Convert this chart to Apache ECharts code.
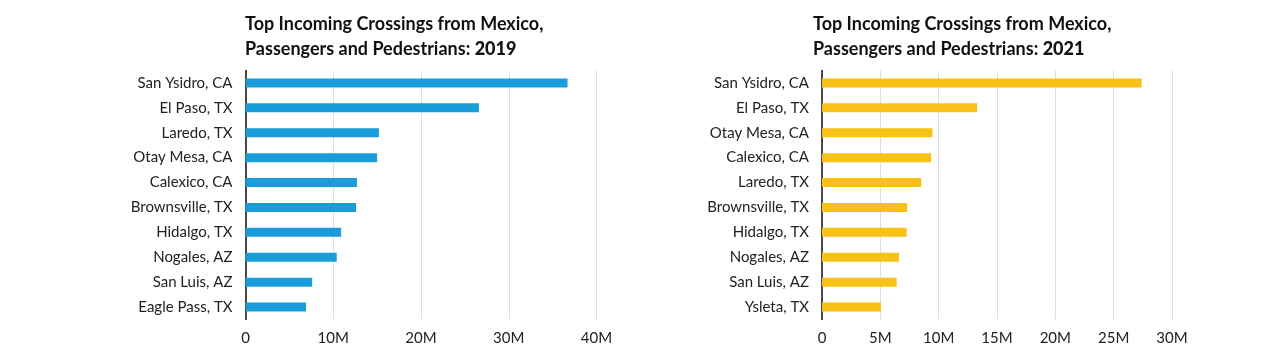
<!DOCTYPE html>
<html>
<head>
<meta charset="utf-8">
<script src="https://cdn.jsdelivr.net/npm/echarts@6/dist/echarts.min.js"></script>
<style>
html,body{margin:0;padding:0;background:#fff;}
#chart{width:1280px;height:358px;}
</style>
</head>
<body>
<div id="chart"></div>
<script>
var categories2019 = ['San Ysidro, CA','El Paso, TX','Laredo, TX','Otay Mesa, CA','Calexico, CA','Brownsville, TX','Hidalgo, TX','Nogales, AZ','San Luis, AZ','Eagle Pass, TX'];
var values2019 = [36.7, 26.6, 15.2, 15.0, 12.7, 12.6, 10.9, 10.4, 7.6, 6.9];
var categories2021 = ['San Ysidro, CA','El Paso, TX','Otay Mesa, CA','Calexico, CA','Laredo, TX','Brownsville, TX','Hidalgo, TX','Nogales, AZ','San Luis, AZ','Ysleta, TX'];
var values2021 = [27.4, 13.3, 9.47, 9.35, 8.5, 7.3, 7.25, 6.6, 6.4, 5.06];
var ticks2019 = [0, 10, 20, 30, 40];
var ticks2021 = [0, 5, 10, 15, 20, 25, 30];

var FONT = 'Lato';
var chart = echarts.init(document.getElementById('chart'), null, {renderer: 'canvas'});

function fmt(v){ return v === 0 ? '0' : v + 'M'; }

function titleObj(left, year){
  return {
    left: left, top: 12, padding: 0,
    text: '{a|Top Incoming Crossings from Mexico,}\n{a|Passengers and Pedestrians: }{b|' + year + '}',
    textStyle: {
      rich: {
        a: {fontFamily: FONT, fontSize: 18, fontWeight: 'bold', color: '#111', lineHeight: 25},
        b: {fontFamily: FONT, fontSize: 18, fontWeight: 900, color: '#111', lineHeight: 25}
      }
    }
  };
}

function xAxisObj(gridIndex, max, interval){
  return {
    type: 'value', gridIndex: gridIndex, min: 0, max: max, interval: interval,
    axisLine: {show: false}, axisTick: {show: false},
    splitLine: {show: true, lineStyle: {color: '#dedede', width: 1}},
    axisLabel: {formatter: fmt, fontFamily: FONT, fontSize: 15, color: '#222', margin: 11}
  };
}

function yAxisObj(gridIndex, cats){
  return {
    type: 'category', gridIndex: gridIndex, data: cats, inverse: true,
    axisLine: {show: true, lineStyle: {color: '#111', width: 1.5}},
    axisTick: {show: false},
    axisLabel: {fontFamily: FONT, fontSize: 15, color: '#222', margin: 13}
  };
}

chart.setOption({
  animation: false,
  title: [titleObj(245, '2019'), titleObj(813, '2021')],
  grid: [
    {left: 245.5, width: 351, top: 70.5, height: 249, containLabel: false},
    {left: 822, width: 350, top: 70.5, height: 249, containLabel: false}
  ],
  xAxis: [
    xAxisObj(0, ticks2019[ticks2019.length-1], ticks2019[1]-ticks2019[0]),
    xAxisObj(1, ticks2021[ticks2021.length-1], ticks2021[1]-ticks2021[0])
  ],
  yAxis: [yAxisObj(0, categories2019), yAxisObj(1, categories2021)],
  series: [
    {type: 'bar', xAxisIndex: 0, yAxisIndex: 0, data: values2019, barWidth: 9, itemStyle: {color: '#1a9cd8'}},
    {type: 'bar', xAxisIndex: 1, yAxisIndex: 1, data: values2021, barWidth: 9, itemStyle: {color: '#f9c118'}}
  ]
});
</script>
</body>
</html>
